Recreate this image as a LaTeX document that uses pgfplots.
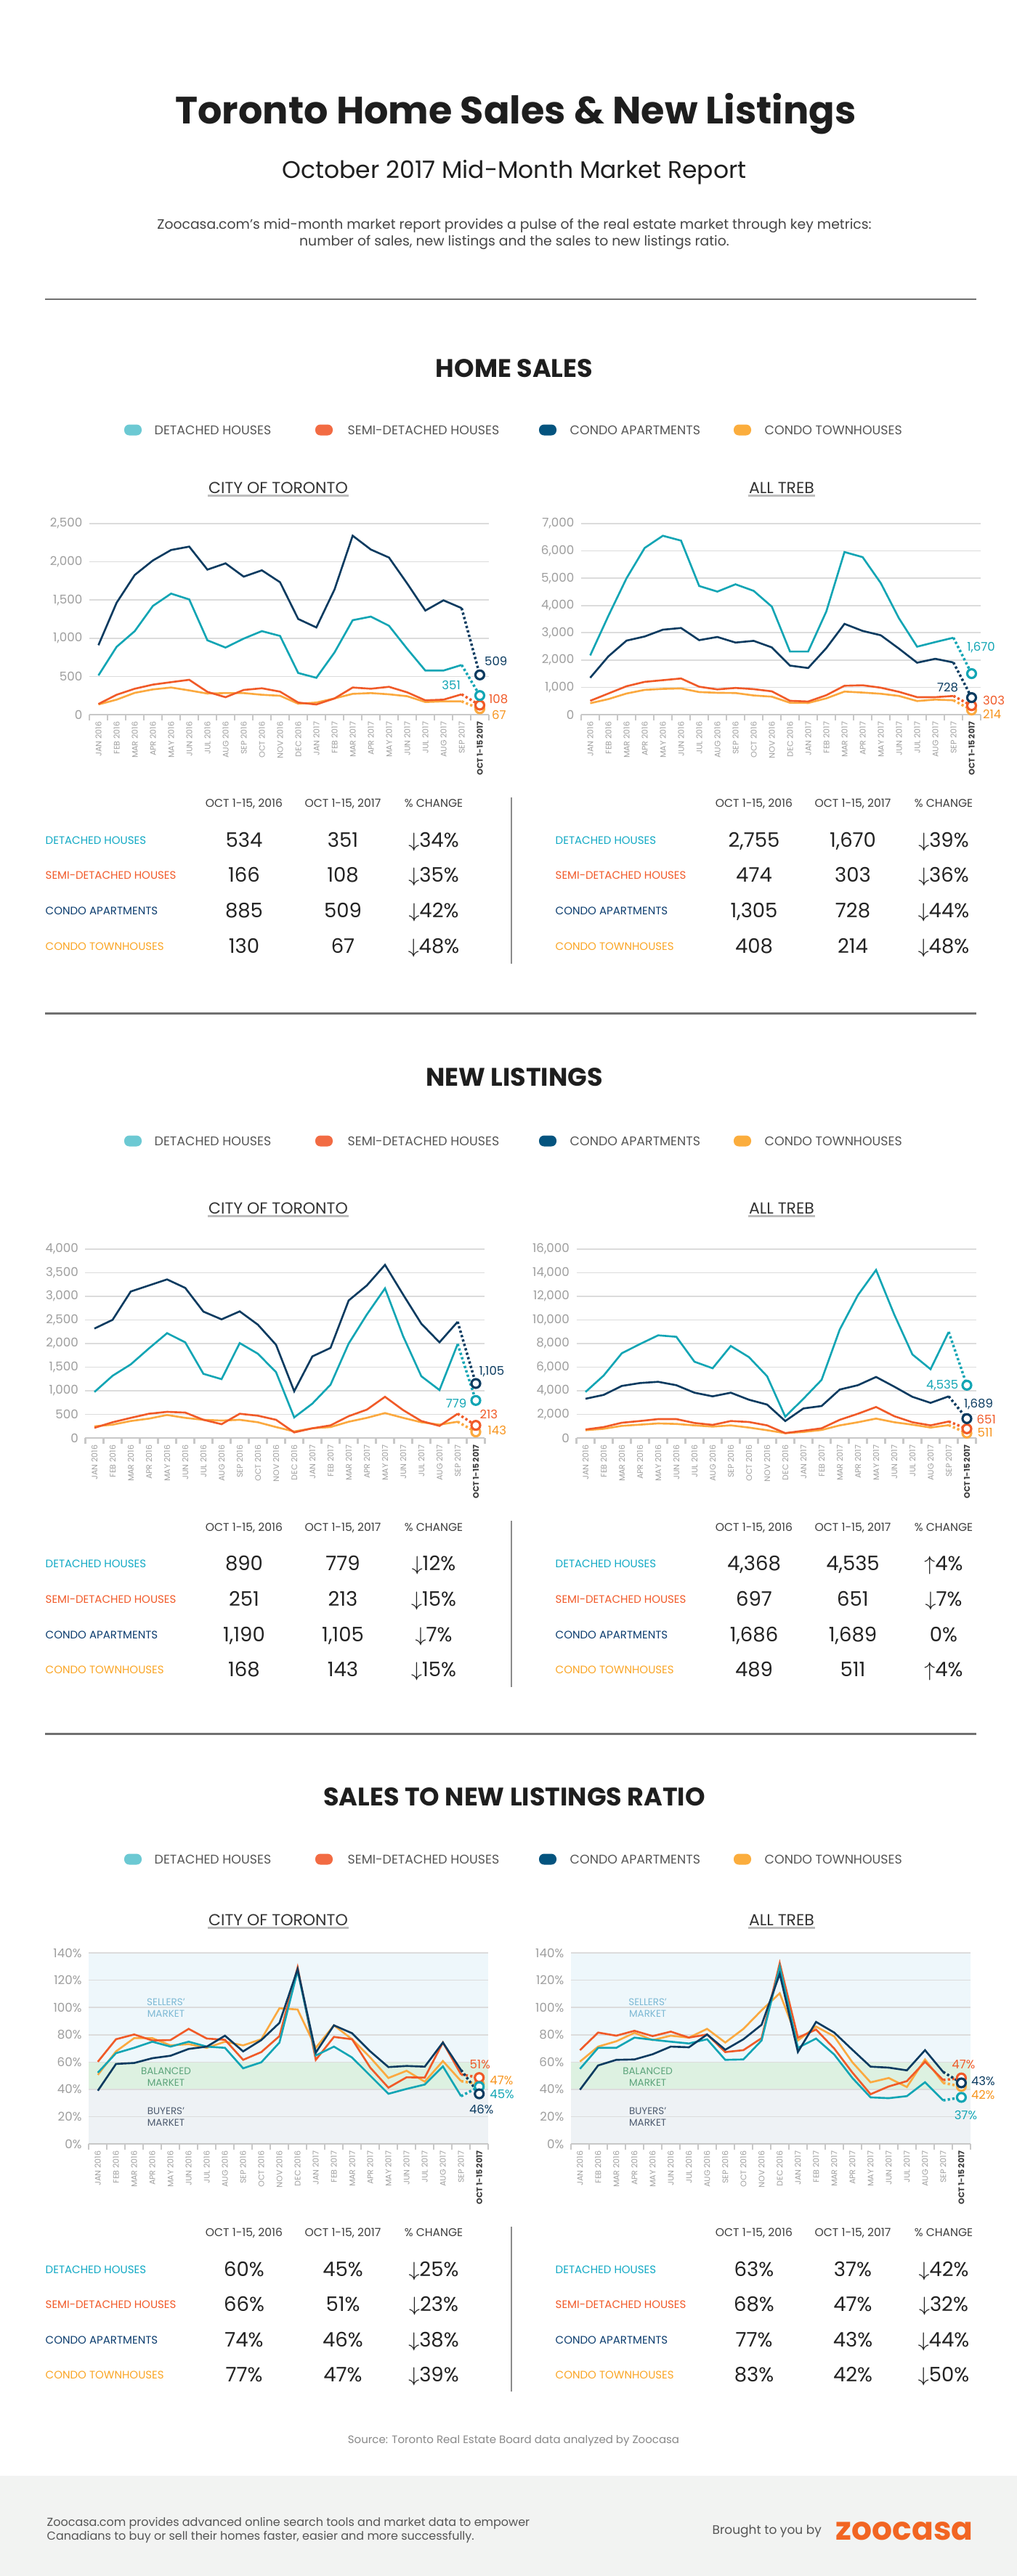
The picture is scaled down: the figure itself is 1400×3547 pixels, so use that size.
\documentclass[border=0pt]{standalone}
\usepackage{fontspec}
\setmainfont{Poppins}
\usepackage{pgfplots}
\pgfplotsset{compat=1.18}
\usepackage{pgfplotstable}

% 1 px of the reference = 0.1 mm
\newcommand\fpx[1]{\fontsize{\fpeval{#1*0.28453}pt}{\fpeval{#1*0.28453*1.2}pt}\selectfont}

\definecolor{cdet}{HTML}{12A5B4}
\definecolor{csemi}{HTML}{F05A28}
\definecolor{ccondo}{HTML}{0B3B60}
\definecolor{ctown}{HTML}{FBA93F}
\definecolor{ctownlab}{HTML}{F7941D}
\definecolor{ldet}{HTML}{6CC9D3}
\definecolor{lsemi}{HTML}{F26B43}
\definecolor{lcondo}{HTML}{04547F}
\definecolor{ltown}{HTML}{FBAD3D}
\definecolor{tdet}{HTML}{12A9C4}
\definecolor{tsemi}{HTML}{F15A29}
\definecolor{tcondo}{HTML}{0B3C6E}
\definecolor{ttown}{HTML}{FAA525}
\definecolor{gridc}{HTML}{DCDCDC}
\definecolor{axgray}{HTML}{C8C8C8}
\definecolor{tickgray}{HTML}{9E9E9E}
\definecolor{octc}{HTML}{3A3A3A}
\definecolor{rulec}{HTML}{707070}
\definecolor{ulc}{HTML}{BDBDBD}
\definecolor{divc}{HTML}{8C8C8C}
\definecolor{sellb}{HTML}{EEF7FB}
\definecolor{balb}{HTML}{DDF1E1}
\definecolor{buyb}{HTML}{EEF2F5}
\definecolor{sellt}{HTML}{7DB9D4}
\definecolor{balt}{HTML}{5CA47B}
\definecolor{buyt}{HTML}{4E5C70}
\definecolor{titlec}{HTML}{1E1E1E}
\definecolor{textc}{HTML}{444444}
\definecolor{leggray}{HTML}{555555}
\definecolor{hgray}{HTML}{3D3D3D}
\definecolor{numc}{HTML}{222222}
\definecolor{ctitle}{HTML}{333333}
\definecolor{footbg}{HTML}{F2F3F2}
\definecolor{srcc}{HTML}{888888}
\definecolor{zoo}{HTML}{F26522}

% x: 0 = Jan 2016 ... 20 = Sep 2017, 21 = Oct 1-15 2017
\pgfplotstableread{
x det semi condo town
0 513 139 909 133
1 887 260 1464 196
2 1093 339 1828 285
3 1423 393 2018 330
4 1584 425 2155 355
5 1508 456 2199 317
6 973 298 1898 276
7 878 228 1980 282
8 995 323 1806 282
9 1093 345 1889 260
10 1030 301 1733 247
11 545 158 1252 143
12 482 133 1141 158
13 814 212 1638 212
14 1236 355 2342 272
15 1283 339 2161 282
16 1163 364 2056 266
17 862 292 1717 241
18 577 187 1362 165
19 577 196 1496 174
20 650 266 1394 174
21 250 124 520 76
}\salescity

\pgfplotstableread{
x det semi condo town
0 2170 507 1352 418
1 3620 774 2135 569
2 4998 1041 2713 774
3 6110 1201 2864 907
4 6555 1263 3113 943
5 6377 1325 3175 960
6 4714 1023 2730 827
7 4509 925 2846 800
8 4776 978 2641 792
9 4536 934 2704 703
10 3958 854 2464 658
11 2312 507 1797 436
12 2312 480 1708 427
13 3780 712 2437 596
14 5959 1058 3326 845
15 5772 1076 3068 809
16 4820 987 2908 765
17 3531 836 2419 685
18 2490 640 1903 498
19 2659 640 2046 551
20 2819 685 1912 525
21 1503 329 623 169
}\salestreb

\pgfplotstableread{
x det semi condo town
0 974 215 2318 246
1 1318 333 2503 282
2 1559 426 3103 359
3 1897 513 3231 410
4 2220 554 3359 487
5 2026 538 3179 426
6 1359 385 2677 385
7 1246 292 2513 369
8 2010 513 2682 385
9 1785 472 2400 333
10 1395 385 1974 231
11 436 118 990 138
12 728 205 1728 205
13 1128 267 1908 231
14 2000 462 2913 344
15 2615 600 3231 426
16 3169 872 3667 528
17 2154 590 3036 426
18 1308 359 2421 333
19 1015 256 2026 282
20 1990 513 2462 344
21 795 267 1154 128
}\listcity

\pgfplotstableread{
x det semi condo town
0 3897 718 3323 656
1 5292 923 3651 779
2 7179 1292 4410 1026
3 7959 1436 4656 1128
4 8697 1600 4759 1231
5 8574 1600 4472 1190
6 6461 1272 3836 1067
7 5907 1108 3528 964
8 7794 1436 3836 1067
9 6851 1354 3241 882
10 5231 1067 2831 656
11 1805 410 1436 410
12 3323 615 2502 513
13 4923 820 2708 677
14 9190 1538 4103 1067
15 12103 2051 4472 1333
16 14236 2625 5169 1641
17 10462 1846 4349 1333
18 7077 1333 3487 1128
19 5826 1067 2974 882
20 8985 1395 3528 1087
21 4471 779 1641 410
}\listtreb

\pgfplotstableread{
x det semi condo town
0 52.2 60.2 39.0 50.6
1 66.5 76.7 58.6 67.8
2 70.4 80.2 59.3 77.5
3 74.9 75.8 62.8 77.5
4 71.3 76.1 64.6 72.2
5 74.9 84.3 69.6 73.1
6 71.3 77.2 71.3 70.4
7 70.4 76.3 79.3 74.9
8 55.4 61.6 67.8 72.2
9 59.8 67.3 76.1 76.7
10 74.3 79.0 88.7 99.4
11 126.9 129.4 128.1 98.5
12 64.8 61.6 66.9 70.4
13 71.3 78.4 86.9 86.9
14 63.3 76.7 81.1 76.7
15 50.0 55.9 67.8 63.3
16 36.7 41.2 56.3 48.3
17 40.3 48.8 57.1 53.6
18 43.5 48.6 56.6 45.6
19 56.8 74.3 74.3 60.7
20 35.0 50.9 54.1 46.0
21 42.0 48.6 36.7 43.8
}\ratiocity

\pgfplotstableread{
x det semi condo town
0 55.0 68.7 39.7 60.3
1 70.4 81.6 57.5 71.3
2 70.4 79.3 61.6 75.2
3 77.9 82.9 61.9 81.4
4 76.3 79.0 65.7 76.1
5 74.9 82.3 71.3 79.3
6 73.6 77.9 70.8 77.9
7 76.7 80.2 80.2 84.3
8 61.6 67.3 69.0 74.3
9 61.9 68.7 76.7 84.3
10 75.8 77.5 87.3 97.9
11 129.9 132.5 124.6 110.4
12 70.4 77.9 67.4 75.8
13 77.2 83.8 89.4 86.0
14 65.5 69.9 81.6 78.8
15 48.3 52.3 69.0 59.8
16 34.1 36.4 56.6 45.1
17 33.5 42.1 55.9 48.3
18 35.0 46.0 53.9 41.7
19 45.2 60.2 68.7 61.9
20 31.9 46.8 52.7 44.7
21 34.1 48.3 44.7 42.1
}\ratiotreb

\pgfplotsset{
  monthly/.style={
    scale only axis, width=55mm, anchor=south west,
    xmin=-0.5, xmax=21.5, ymin=0, clip=false,
    axis x line*=bottom, axis y line*=left,
    y axis line style={draw=none},
    x axis line style={draw=axgray, line width=0.6pt},
    xtick={0,...,21},
    xticklabels={JAN 2016,FEB 2016,MAR 2016,APR 2016,MAY 2016,JUN 2016,JUL 2016,AUG 2016,SEP 2016,OCT 2016,NOV 2016,DEC 2016,JAN 2017,FEB 2017,MAR 2017,APR 2017,MAY 2017,JUN 2017,JUL 2017,AUG 2017,SEP 2017,{\color{octc}\bfseries OCT 1-15 2017}},
    minor xtick={-0.5,0.5,...,21.5},
    tick align=outside, major tick length=0pt, minor tick length=0.8mm,
    every tick/.style={draw=axgray, line width=0.6pt},
    ytick style={draw=none},
    ymajorgrids, grid style={draw=gridc, line width=0.45pt},
    scaled y ticks=false,
    /pgf/number format/1000 sep={,},
    /pgf/number format/assume math mode=true,
    xticklabel style={font=\fpx{11}, text=tickgray, inner sep=0pt, anchor=east, yshift=-0.9mm, rotate=90},
    yticklabel style={font=\fpx{16.7}, text=tickgray, inner sep=0pt, anchor=east, xshift=-0.9mm},
  },
}
\tikzset{ptlab/.style={font=\fpx{16.5}, inner sep=0pt}}

% one series: solid to Sep 2017, dotted to Oct 1-15, open circle at the end
\newcommand\series[3]{%
  \addplot[#3, line width=0.75pt, restrict x to domain=-0.5:20.5] table[x=x,y=#2]{#1};
  \addplot[#3, line width=1pt, dash pattern=on 0.9pt off 0.9pt, restrict x to domain=19.5:21.5] table[x=x,y=#2]{#1};
  \addplot[#3, only marks, mark=*, mark size=0.6mm, mark options={fill=white, draw=#3, line width=0.9pt}, restrict x to domain=20.5:21.5] table[x=x,y=#2]{#1};
}
\newcommand\allseries[1]{%
  \series{#1}{town}{ctown}
  \series{#1}{semi}{csemi}
  \series{#1}{det}{cdet}
  \series{#1}{condo}{ccondo}
}

\newcommand\sechead[2]{\node[anchor=base, inner sep=0pt, font=\fpx{35}\bfseries, text=titlec] at (708,#1) {#2};}
\newcommand\legendrow[1]{%
  \foreach \cx/\tx/\col/\lab in {183/212/ldet/DETACHED HOUSES, 446/478/lsemi/SEMI-DETACHED HOUSES, 754/784/lcondo/CONDO APARTMENTS, 1022/1052/ltown/CONDO TOWNHOUSES}{%
    \fill[\col, rounded corners=0.7mm] (\cx-12,#1-7.5) rectangle (\cx+12,#1+7.5);
    \node[anchor=base west, inner sep=0pt, font=\fpx{17.4}, text=leggray] at (\tx,#1+6) {\lab};
  }}
\newcommand\charttitles[1]{%
  \node[anchor=base, inner sep=0pt, font=\fpx{22}, text=ctitle] (ta) at (383,#1) {CITY OF TORONTO};
  \node[anchor=base, inner sep=0pt, font=\fpx{22}, text=ctitle] (tb) at (1076,#1) {ALL TREB};
  \draw[ulc, line width=0.6pt] ([yshift=-0.35mm]ta.base west) -- ([yshift=-0.35mm]ta.base east);
  \draw[ulc, line width=0.6pt] ([yshift=-0.35mm]tb.base west) -- ([yshift=-0.35mm]tb.base east);
}
\newcommand\thead[2]{%
  \node[anchor=base, inner sep=0pt, font=\fpx{15.6}, text=hgray] at (336+#1,#2+5.5) {OCT 1-15, 2016};
  \node[anchor=base, inner sep=0pt, font=\fpx{15.6}, text=hgray] at (472+#1,#2+5.5) {OCT 1-15, 2017};
  \node[anchor=base, inner sep=0pt, font=\fpx{15.6}, text=hgray] at (597+#1,#2+5.5) {\% CHANGE};
}
\newcommand\trow[7]{%
  \node[anchor=base west, inner sep=0pt, font=\fpx{15}, text=#4] at (62+#1,#2+5) {#3};
  \node[anchor=base, inner sep=0pt, font=\fpx{27.5}, text=numc] at (336+#1,#2+9.5) {#5};
  \node[anchor=base, inner sep=0pt, font=\fpx{27.5}, text=numc] at (472+#1,#2+9.5) {#6};
  \node[anchor=base, inner sep=0pt, font=\fpx{27.5}, text=numc] at (597+#1,#2+9.5) {#7};
}
\newcommand\dn{$\downarrow$}
\newcommand\up{$\uparrow$}

\begin{document}
\begin{tikzpicture}
\begin{scope}[x=0.1mm, y=-0.1mm]
\path[use as bounding box] (0,0) rectangle (1400,3547);

% header
\node[anchor=base, inner sep=0pt, font=\fpx{52.5}\bfseries, text=titlec] at (710,170) {Toronto Home Sales \& New Listings};
\node[anchor=base, inner sep=0pt, font=\fpx{33}, text=titlec] at (708,245) {October 2017 Mid-Month Market Report};
\node[anchor=base, inner sep=0pt, font=\fpx{18.8}, text=textc] at (708,315) {Zoocasa.com’s mid-month market report provides a pulse of the real estate market through key metrics:};
\node[anchor=base, inner sep=0pt, font=\fpx{18.8}, text=textc] at (708,338) {number of sales, new listings and the sales to new listings ratio.};
\draw[rulec, line width=0.85pt] (62,412) -- (1344,412);

% home sales
\sechead{519}{HOME SALES}
\legendrow{592}
\charttitles{679}
\thead{0}{1106}
\trow{0}{1157}{DETACHED HOUSES}{tdet}{534}{351}{\dn34\%}
\trow{0}{1205}{SEMI-DETACHED HOUSES}{tsemi}{166}{108}{\dn35\%}
\trow{0}{1254}{CONDO APARTMENTS}{tcondo}{885}{509}{\dn42\%}
\trow{0}{1303}{CONDO TOWNHOUSES}{ttown}{130}{67}{\dn48\%}
\thead{702}{1106}
\trow{702}{1157}{DETACHED HOUSES}{tdet}{2,755}{1,670}{\dn39\%}
\trow{702}{1205}{SEMI-DETACHED HOUSES}{tsemi}{474}{303}{\dn36\%}
\trow{702}{1254}{CONDO APARTMENTS}{tcondo}{1,305}{728}{\dn44\%}
\trow{702}{1303}{CONDO TOWNHOUSES}{ttown}{408}{214}{\dn48\%}
\draw[divc, line width=0.35pt] (704,1098) -- (704,1327);
\draw[rulec, line width=0.85pt] (62,1395) -- (1344,1395);

% new listings
\sechead{1495}{NEW LISTINGS}
\legendrow{1571}
\charttitles{1671}
\thead{0}{2103}
\trow{0}{2153}{DETACHED HOUSES}{tdet}{890}{779}{\dn12\%}
\trow{0}{2202}{SEMI-DETACHED HOUSES}{tsemi}{251}{213}{\dn15\%}
\trow{0}{2251}{CONDO APARTMENTS}{tcondo}{1,190}{1,105}{\dn7\%}
\trow{0}{2299}{CONDO TOWNHOUSES}{ttown}{168}{143}{\dn15\%}
\thead{702}{2103}
\trow{702}{2153}{DETACHED HOUSES}{tdet}{4,368}{4,535}{\up4\%}
\trow{702}{2202}{SEMI-DETACHED HOUSES}{tsemi}{697}{651}{\dn7\%}
\trow{702}{2251}{CONDO APARTMENTS}{tcondo}{1,686}{1,689}{0\%}
\trow{702}{2299}{CONDO TOWNHOUSES}{ttown}{489}{511}{\up4\%}
\draw[divc, line width=0.35pt] (704,2094) -- (704,2323);
\draw[rulec, line width=0.85pt] (62,2387) -- (1344,2387);

% sales to new listings ratio
\sechead{2486}{SALES TO NEW LISTINGS RATIO}
\legendrow{2560}
\charttitles{2651}
\thead{0}{3074}
\trow{0}{3125}{DETACHED HOUSES}{tdet}{60\%}{45\%}{\dn25\%}
\trow{0}{3173}{SEMI-DETACHED HOUSES}{tsemi}{66\%}{51\%}{\dn23\%}
\trow{0}{3222}{CONDO APARTMENTS}{tcondo}{74\%}{46\%}{\dn38\%}
\trow{0}{3270}{CONDO TOWNHOUSES}{ttown}{77\%}{47\%}{\dn39\%}
\thead{702}{3074}
\trow{702}{3125}{DETACHED HOUSES}{tdet}{63\%}{37\%}{\dn42\%}
\trow{702}{3173}{SEMI-DETACHED HOUSES}{tsemi}{68\%}{47\%}{\dn32\%}
\trow{702}{3222}{CONDO APARTMENTS}{tcondo}{77\%}{43\%}{\dn44\%}
\trow{702}{3270}{CONDO TOWNHOUSES}{ttown}{83\%}{42\%}{\dn50\%}
\draw[divc, line width=0.35pt] (704,3066) -- (704,3293);

% source and footer
\node[anchor=base, inner sep=0pt, font=\fpx{15}, text=srcc] at (707,3364) {Source: Toronto Real Estate Board data analyzed by Zoocasa};
\fill[footbg] (0,3409) rectangle (1400,3547);
\node[anchor=base west, inner sep=0pt, font=\fpx{16}, text=leggray] at (64,3478) {Zoocasa.com provides advanced online search tools and market data to empower};
\node[anchor=base west, inner sep=0pt, font=\fpx{16}, text=leggray] at (64,3497) {Canadians to buy or sell their homes faster, easier and more successfully.};
\node[anchor=base west, inner sep=0pt, font=\fpx{17}, text=leggray] at (980,3489) {Brought to you by};
\node[anchor=base west, inner sep=0pt, font=\fpx{44}\bfseries, text=zoo] at (1150,3497) {zoocasa};
\end{scope}

% ---- home sales, city of Toronto
\begin{axis}[monthly, at={(12.3mm,-98.4mm)}, height=26.3mm, ymax=2500, ytick={0,500,...,2500}]
\allseries{\salescity}
\node[ptlab, text=ccondo, anchor=west, xshift=0.6mm, yshift=1.9mm] at (axis cs:21,520) {509};
\node[ptlab, text=cdet, anchor=east, xshift=-2.6mm, yshift=1.4mm] at (axis cs:21,250) {351};
\node[ptlab, text=csemi, anchor=west, xshift=1.2mm, yshift=0.8mm] at (axis cs:21,124) {108};
\node[ptlab, text=ctownlab, anchor=west, xshift=1.6mm, yshift=-0.8mm] at (axis cs:21,76) {67};
\end{axis}

% ---- home sales, all TREB
\begin{axis}[monthly, at={(80.0mm,-98.4mm)}, height=26.3mm, ymax=7000, ytick={0,1000,...,7000}]
\allseries{\salestreb}
\node[ptlab, text=cdet, xshift=1.3mm, yshift=3.6mm] at (axis cs:21,1503) {1,670};
\node[ptlab, text=ccondo, xshift=-3.3mm, yshift=1.4mm] at (axis cs:21,623) {728};
\node[ptlab, text=csemi, anchor=west, xshift=1.5mm, yshift=0.7mm] at (axis cs:21,329) {303};
\node[ptlab, text=ctownlab, anchor=west, xshift=1.5mm, yshift=-0.6mm] at (axis cs:21,169) {214};
\end{axis}

% ---- new listings, city of Toronto
\begin{axis}[monthly, at={(11.75mm,-198.0mm)}, height=26.0mm, ymax=4000, ytick={0,500,...,4000}]
\allseries{\listcity}
\node[ptlab, text=ccondo, anchor=west, xshift=0.4mm, yshift=1.6mm] at (axis cs:21,1154) {1,105};
\node[ptlab, text=cdet, anchor=east, xshift=-1.2mm, yshift=-0.4mm] at (axis cs:21,795) {779};
\node[ptlab, text=csemi, anchor=west, xshift=0.5mm, yshift=1.5mm] at (axis cs:21,267) {213};
\node[ptlab, text=ctownlab, anchor=west, xshift=1.6mm, yshift=0.2mm] at (axis cs:21,128) {143};
\end{axis}

% ---- new listings, all TREB
\begin{axis}[monthly, at={(79.35mm,-198.0mm)}, height=26.0mm, ymax=16000, ytick={0,2000,...,16000}]
\allseries{\listtreb}
\node[ptlab, text=cdet, anchor=east, xshift=-1.1mm] at (axis cs:21,4471) {4,535};
\node[ptlab, text=ccondo, xshift=1.6mm, yshift=2.0mm] at (axis cs:21,1641) {1,689};
\node[ptlab, text=csemi, anchor=west, xshift=1.3mm, yshift=1.3mm] at (axis cs:21,779) {651};
\node[ptlab, text=ctownlab, anchor=west, xshift=1.4mm, yshift=0.1mm] at (axis cs:21,410) {511};
\end{axis}

% ---- sales to new listings ratio, city of Toronto
\begin{axis}[monthly, set layers, at={(12.22mm,-295.2mm)}, height=26.3mm, ymax=140, ytick={0,20,...,140},
  yticklabel={\pgfmathprintnumber{\tick}\%}]
\addplot[draw=none, fill=sellb, on layer=axis background] coordinates {(-0.5,140) (21.5,140)} \closedcycle;
\addplot[draw=none, fill=balb, on layer=axis background] coordinates {(-0.5,60) (21.5,60)} \closedcycle;
\addplot[draw=none, fill=buyb, on layer=axis background] coordinates {(-0.5,40) (21.5,40)} \closedcycle;
\node[align=center, font=\fpx{13.5}, text=sellt] at (axis cs:3.75,99.5) {SELLERS’\\MARKET};
\node[align=center, font=\fpx{13.5}, text=balt] at (axis cs:3.75,49) {BALANCED\\MARKET};
\node[align=center, font=\fpx{13.5}, text=buyt] at (axis cs:3.75,19.7) {BUYERS’\\MARKET};
\allseries{\ratiocity}
\node[ptlab, text=csemi, xshift=0.1mm, yshift=1.8mm] at (axis cs:21,48.6) {51\%};
\node[ptlab, text=ctownlab, anchor=west, xshift=1.4mm, yshift=0.5mm] at (axis cs:21,43.8) {47\%};
\node[ptlab, text=cdet, anchor=west, xshift=1.4mm, yshift=-1.1mm] at (axis cs:21,42.0) {45\%};
\node[ptlab, text=ccondo, xshift=0.3mm, yshift=-2.1mm] at (axis cs:21,36.7) {46\%};
\end{axis}

% ---- sales to new listings ratio, all TREB
\begin{axis}[monthly, set layers, at={(78.59mm,-295.2mm)}, height=26.3mm, ymax=140, ytick={0,20,...,140},
  yticklabel={\pgfmathprintnumber{\tick}\%}]
\addplot[draw=none, fill=sellb, on layer=axis background] coordinates {(-0.5,140) (21.5,140)} \closedcycle;
\addplot[draw=none, fill=balb, on layer=axis background] coordinates {(-0.5,60) (21.5,60)} \closedcycle;
\addplot[draw=none, fill=buyb, on layer=axis background] coordinates {(-0.5,40) (21.5,40)} \closedcycle;
\node[align=center, font=\fpx{13.5}, text=sellt] at (axis cs:3.73,99.5) {SELLERS’\\MARKET};
\node[align=center, font=\fpx{13.5}, text=balt] at (axis cs:3.73,49) {BALANCED\\MARKET};
\node[align=center, font=\fpx{13.5}, text=buyt] at (axis cs:3.73,19.7) {BUYERS’\\MARKET};
\allseries{\ratiotreb}
\node[ptlab, text=csemi, xshift=0.3mm, yshift=1.9mm] at (axis cs:21,48.3) {47\%};
\node[ptlab, text=ccondo, anchor=west, xshift=1.3mm, yshift=0.3mm] at (axis cs:21,44.7) {43\%};
\node[ptlab, text=ctownlab, anchor=west, xshift=1.3mm, yshift=-1.2mm] at (axis cs:21,42.1) {42\%};
\node[ptlab, text=cdet, xshift=0.6mm, yshift=-2.5mm] at (axis cs:21,34.1) {37\%};
\end{axis}
\end{tikzpicture}
\end{document}
